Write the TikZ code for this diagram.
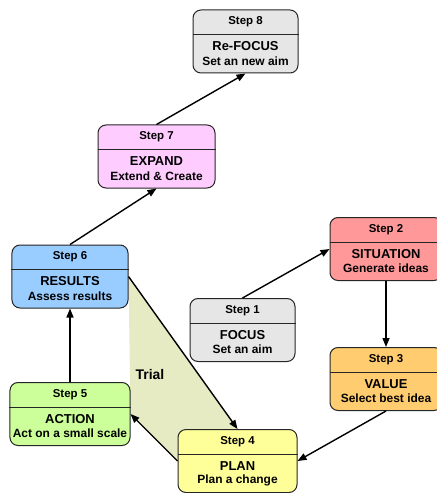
\documentclass[tikz,border=0pt]{standalone}
\usepackage{fontspec}
\setmainfont{Liberation Sans}
\usetikzlibrary{arrows.meta,backgrounds}

\definecolor{focusgray}{RGB}{230,230,230}
\definecolor{expandpink}{RGB}{255,204,255}
\definecolor{resultblue}{RGB}{153,204,255}
\definecolor{situationred}{RGB}{255,153,153}
\definecolor{valueorange}{RGB}{255,204,112}
\definecolor{actiongreen}{RGB}{204,255,153}
\definecolor{planyellow}{RGB}{255,255,153}
\definecolor{trialolive}{RGB}{230,235,196}

\tikzset{
  stepbox/.style={draw=black!85, line width=1bp, rounded corners=8bp,
    minimum height=63bp, inner sep=0pt},
  steplabel/.style={font=\bfseries\fontsize{11.5}{13}\selectfont, inner sep=0pt},
  titlelabel/.style={font=\bfseries\fontsize{13}{15}\selectfont, inner sep=0pt},
  sublabel/.style={font=\bfseries\fontsize{12}{14}\selectfont, inner sep=0pt},
  arr/.style={-{Triangle[length=9bp,width=7bp]}, line width=1.4bp},
}

% one step box: name, centre, width, colour, step, title, subtitle
\newcommand{\stepnode}[7]{%
  \node[stepbox, fill=#4, minimum width=#3bp] (#1) at (#2) {};
  \draw[line width=1bp, black!85] ([yshift=-25bp]#1.north west) -- ([yshift=-25bp]#1.north east);
  \node[steplabel] (#1-step) at ([yshift=-12.5bp]#1.north) {#5};
  \node[titlelabel] (#1-title) at ([yshift=-37bp]#1.north) {#6};
  \node[sublabel] (#1-sub) at ([yshift=-51.5bp]#1.north) {#7};
}

\begin{document}
\begin{tikzpicture}[x=1bp, y=-1bp]
  \useasboundingbox (0,0) rectangle (437,493);
  \clip (0,0) rectangle (437,493);

  \stepnode{s8}{245.5,41.5}{105}{focusgray}{Step 8}{Re-FOCUS}{Set an new aim}
  \stepnode{s7}{156.5,156.5}{117}{expandpink}{Step 7}{EXPAND}{Extend \& Create}
  \stepnode{s6}{70,276.5}{116}{resultblue}{Step 6}{RESULTS}{Assess results}
  \stepnode{s1}{242.5,330}{105}{focusgray}{Step 1}{FOCUS}{Set an aim}
  \stepnode{s2}{386,249}{112}{situationred}{Step 2}{SITUATION}{Generate ideas}
  \stepnode{s3}{386,379}{112}{valueorange}{Step 3}{VALUE}{Select best idea}
  \stepnode{s5}{70,414}{120}{actiongreen}{Step 5}{ACTION}{Act on a small scale}
  \stepnode{s4}{237.5,461}{119}{planyellow}{Step 4}{PLAN}{Plan a change}

  % trial area
  \begin{scope}[on background layer]
    \fill[trialolive] (s6.east) -- (s4.north) -- (s4.west) -- (s5.east) -- cycle;
  \end{scope}
  \node[font=\bfseries\fontsize{14}{16}\selectfont] (trial) at (150,375) {Trial};

  \draw[arr] (s1.north) -- (s2.west);
  \draw[arr] (s2.south) -- (s3.north);
  \draw[arr] (s3.south) -- (s4.east);
  \draw[arr] (s4.west) -- (s5.east);
  \draw[arr] (s5.north) -- (s6.south);
  \draw[arr] (s6.east) -- (s4.north);
  \draw[arr] (s6.north) -- (s7.south);
  \draw[arr] (s7.north) -- (s8.south);
\end{tikzpicture}
\end{document}
